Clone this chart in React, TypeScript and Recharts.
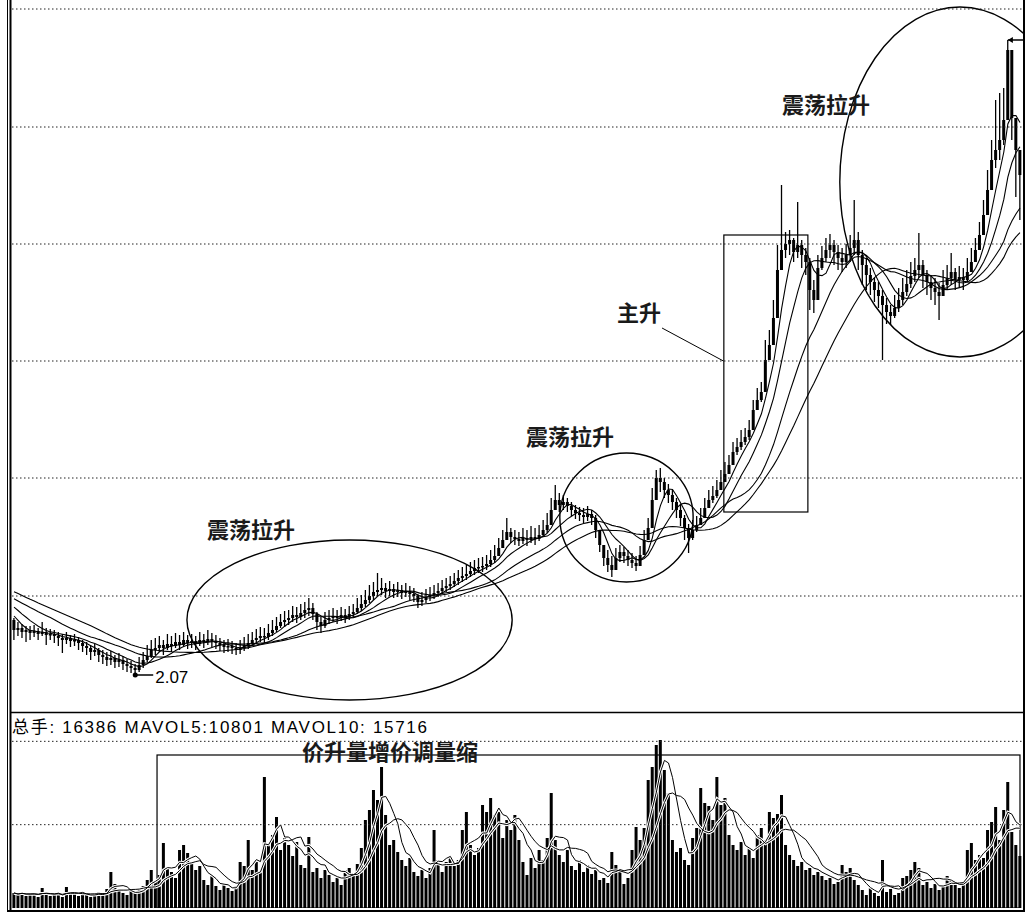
import React from 'react';
import { ComposedChart, Bar, Line, XAxis, YAxis, ReferenceLine, ReferenceArea, ReferenceDot } from 'recharts';

// Prices are in fen (1/100 yuan). One candle per trading day.
const priorCloseFen = [312, 310, 308, 309, 306, 304, 305, 302, 300, 301, 298, 297, 295, 296, 293, 291, 292, 289, 287, 286, 290, 288, 286, 284, 282, 279, 276, 272, 268, 262];

const closeFen = [
  252, 254, 250, 252, 249, 251, 248, 250, 247, 248,
  246, 244, 242, 244, 241, 242, 239, 236, 234, 230,
  232, 227, 225, 222, 224, 220, 222, 218, 216, 214,
  212, 217, 222, 226, 232, 234, 237, 234, 238, 236,
  240, 237, 242, 239, 241, 238, 242, 240, 243, 241,
  239, 237, 235, 236, 234, 232, 234, 237, 239, 242,
  244, 246, 245, 249, 252, 256, 260, 262, 264, 267,
  265, 269, 272, 274, 268, 260, 256, 262, 264, 266,
  264, 267, 265, 268, 270, 274, 278, 282, 286, 290,
  292, 294, 291, 293, 290, 292, 289, 291, 288, 286,
  280, 282, 285, 287, 289, 291, 294, 296, 298, 301,
  304, 306, 308, 311, 314, 315, 316, 318, 322, 326,
  334, 342, 350, 345, 343, 341, 344, 342, 345, 343,
  347, 352, 357, 372, 382, 377, 380, 376, 372, 369,
  367, 365, 368, 364, 352, 337, 324, 317, 312, 324,
  330, 326, 322, 319, 316, 327, 342, 354, 382, 404,
  400, 392, 387, 380, 372, 364, 354, 344, 352, 357,
  364, 374, 382, 386, 392, 400, 408, 417, 430, 435,
  440, 445, 452, 472, 482, 490, 522, 537, 564, 612,
  632, 638, 642, 630, 637, 627, 620, 592, 582, 614,
  624, 632, 637, 630, 624, 620, 627, 634, 642, 627,
  617, 607, 600, 592, 586, 577, 570, 566, 574, 582,
  590, 598, 606, 612, 617, 607, 600, 594, 590, 586,
  597, 604, 610, 602, 605, 602, 610, 620, 632, 647,
  667, 692, 722, 732, 742, 762, 832, 764, 732, 707,
];

const highFen = [
  264, 260, 258, 256, 256, 257, 254, 260, 254, 253,
  252, 250, 248, 250, 247, 248, 245, 242, 240, 237,
  238, 234, 232, 230, 231, 227, 229, 226, 223, 221,
  218, 225, 230, 237, 242, 244, 246, 242, 248, 246,
  249, 247, 250, 247, 248, 246, 250, 248, 252, 249,
  247, 244, 242, 243, 241, 239, 242, 245, 248, 250,
  253, 255, 254, 258, 262, 265, 268, 271, 272, 276,
  275, 278, 280, 284, 279, 270, 265, 270, 272, 274,
  272, 275, 273, 276, 278, 284, 287, 292, 297, 300,
  309, 304, 299, 301, 298, 300, 297, 299, 296, 294,
  288, 290, 293, 295, 297, 299, 302, 304, 306, 309,
  312, 315, 317, 320, 322, 324, 325, 327, 332, 337,
  344, 352, 364, 354, 352, 350, 354, 352, 356, 354,
  357, 362, 369, 384, 397, 389, 387, 384, 380, 377,
  375, 374, 376, 372, 367, 352, 337, 332, 326, 334,
  337, 335, 332, 329, 326, 336, 352, 364, 394, 412,
  414, 404, 398, 392, 384, 377, 367, 358, 362, 366,
  374, 384, 392, 396, 402, 412, 420, 427, 440, 444,
  452, 454, 462, 482, 494, 500, 542, 552, 582, 637,
  697, 650, 652, 644, 680, 642, 634, 624, 602, 627,
  636, 644, 648, 642, 637, 634, 638, 647, 682, 650,
  632, 624, 614, 604, 600, 592, 584, 577, 587, 594,
  604, 612, 620, 624, 649, 622, 612, 607, 604, 599,
  612, 617, 629, 614, 616, 614, 624, 634, 644, 660,
  682, 712, 742, 782, 789, 794, 842, 777, 752, 729,
];

const lowFen = [
  242, 246, 244, 240, 242, 245, 242, 246, 237, 242,
  239, 236, 229, 238, 235, 236, 232, 230, 227, 222,
  226, 220, 218, 216, 217, 214, 215, 212, 210, 209,
  207, 210, 214, 220, 224, 227, 230, 227, 232, 230,
  234, 232, 235, 233, 234, 232, 236, 234, 237, 235,
  233, 231, 229, 230, 228, 227, 228, 231, 233, 236,
  238, 240, 239, 242, 246, 250, 254, 255, 257, 260,
  259, 262, 264, 266, 262, 252, 249, 254, 258, 260,
  258, 261, 259, 262, 264, 268, 271, 275, 279, 282,
  286, 287, 284, 286, 284, 285, 283, 285, 282, 280,
  274, 276, 279, 281, 283, 285, 288, 290, 292, 295,
  297, 300, 302, 305, 307, 309, 310, 312, 315, 319,
  326, 334, 342, 339, 337, 336, 338, 336, 339, 337,
  341, 345, 349, 362, 374, 370, 372, 370, 366, 363,
  361, 359, 361, 357, 344, 330, 316, 310, 305, 316,
  320, 319, 316, 314, 311, 319, 334, 344, 362, 387,
  390, 384, 379, 372, 364, 356, 342, 329, 342, 350,
  357, 367, 374, 379, 384, 392, 400, 409, 420, 427,
  432, 437, 442, 462, 474, 480, 507, 522, 547, 582,
  617, 624, 627, 620, 624, 614, 607, 572, 569, 587,
  612, 620, 624, 617, 612, 610, 614, 620, 627, 612,
  597, 592, 587, 580, 574, 522, 558, 557, 564, 570,
  577, 586, 594, 600, 604, 594, 587, 582, 577, 562,
  587, 592, 597, 592, 594, 592, 600, 610, 620, 634,
  652, 672, 707, 714, 722, 737, 765, 742, 685, 662,
];

// Volume in 手 (lots)
const volumeLots = [
  4500, 3900, 4800, 3600, 4200, 4500, 3300, 6000, 4200, 3600,
  3900, 4500, 3300, 6300, 4800, 4200, 3600, 4500, 3900, 3300,
  4200, 4800, 3900, 5700, 10800, 7200, 5400, 4500, 3900, 5100,
  4500, 5700, 6600, 8400, 11400, 7800, 9900, 19500, 12000, 10800,
  9000, 17400, 18900, 16500, 13800, 11400, 12600, 8400, 6900, 9600,
  6600, 5400, 7200, 6000, 5100, 6600, 13800, 12600, 20400, 11400,
  14400, 10800, 39300, 18900, 21900, 27300, 17400, 21000, 18900, 15600,
  19800, 12900, 12000, 21300, 10800, 12000, 9000, 11400, 9900, 7800,
  9000, 6900, 11400, 12000, 10500, 13200, 18000, 26400, 29400, 35400,
  32400, 42300, 27900, 18900, 20400, 16800, 14400, 12600, 15000, 10800,
  9600, 11400, 9000, 12000, 23400, 14400, 10800, 13800, 15000, 12600,
  14400, 23400, 28800, 18900, 15900, 18000, 30900, 28800, 33000, 27900,
  29400, 21000, 26400, 23400, 27900, 20400, 13800, 9900, 15000, 12000,
  17400, 14400, 21000, 34500, 20400, 15900, 13800, 17400, 12600, 11400,
  14400, 10800, 12900, 10200, 11400, 8400, 9000, 7500, 16800, 12900,
  11400, 7200, 9000, 17400, 24300, 20400, 24000, 38400, 42300, 48900,
  50400, 41400, 34500, 20400, 16800, 18000, 14400, 12900, 21000, 24000,
  36000, 31500, 30600, 26400, 39300, 30900, 33000, 21900, 18900, 17400,
  19800, 15900, 18000, 15000, 21900, 24000, 20400, 28800, 27000, 28200,
  33900, 18900, 15900, 14400, 12600, 13800, 11400, 12000, 9900, 10800,
  9600, 8400, 9000, 7200, 7800, 12900, 10800, 12000, 8400, 6900,
  5400, 3900, 6000, 4500, 3600, 14400, 4800, 5700, 3900, 4500,
  9000, 9600, 11400, 13800, 12000, 6900, 7800, 6000, 7200, 5400,
  6600, 9600, 8400, 6900, 6000, 7200, 17400, 19500, 14400, 15900,
  15000, 23400, 25800, 30300, 20400, 29400, 37800, 22800, 18900, 15600,
];

const priceGridFen = [286, 404, 521, 638, 755, 873];
const volumeGridLots = [25000, 50000];
const maPeriods = [5, 10, 20, 30];
const volMaPeriods = [5, 10];

// annotations, in data units (candle index, fen / lots)
const annotationEllipses = [
  { x1: 42.8, x2: 123.3, y1: 182, y2: 342, clip: false },
  { x1: 135.1, x2: 168.1, y1: 300, y2: 429, clip: false },
  { x1: 204.4, x2: 263.9, y1: 525, y2: 875, clip: true },
];
const mainRiseBox = { x1: 175.7, x2: 196.5, y1: 370, y2: 647 };
const mainRiseLeader = [{ x: 160.4, y: 554 }, { x: 175.6, y: 521 }];
const volumeBox = { x1: 35.4, x2: 249.0, y1: 0, y2: 45900 };
const lowPoint = { i: 30, fen: 207, label: '2.07' };
const highPoint = { i: 246, fen: 842 };

const N = closeFen.length;
const allCloses = [...priorCloseFen, ...closeFen];
const P = priorCloseFen.length;

function avg(arr: number[], end: number, k: number) {
  let s = 0;
  let n = 0;
  for (let j = Math.max(0, end - k + 1); j <= end; j++) {
    s += arr[j];
    n++;
  }
  return s / n;
}

const priceRows = closeFen.map((c, i) => {
  const o = i === 0 ? priorCloseFen[P - 1] : closeFen[i - 1];
  const hi = Math.max(highFen[i], o, c);
  const lo = Math.min(lowFen[i], o, c);
  const row: any = { i, o, c, hi, lo, range: [lo, hi] };
  maPeriods.forEach((k) => {
    row['ma' + k] = avg(allCloses, P + i, k);
  });
  return row;
});

const volRows = volumeLots.map((v, i) => {
  const row: any = { i, v };
  volMaPeriods.forEach((k) => {
    row['mv' + k] = avg(volumeLots, i, k);
  });
  return row;
});

const W = 1030;
const MAIN_H = 712;
const VOL_TOP = 713;
const VOL_H = 195;
const MARGIN = { top: 0, right: 8, bottom: 0, left: 12 };
const X_DOMAIN: [number, number] = [-0.5, N - 0.5];

const Candle = (props: any) => {
  const { x, y, width, height, payload } = props;
  if (!payload || x == null) return null;
  const top = Math.min(y, y + height);
  const h = Math.abs(height);
  const span = payload.hi - payload.lo;
  const k = span > 0 ? h / span : 0;
  const cx = x + width / 2;
  const bTop = top + (payload.hi - Math.max(payload.o, payload.c)) * k;
  const bBot = top + (payload.hi - Math.min(payload.o, payload.c)) * k;
  return (
    <g>
      <line x1={cx} x2={cx} y1={top} y2={top + h} stroke="#000" strokeWidth={1.3} />
      <rect x={cx - 1.5} y={bTop} width={3} height={Math.max(1.5, bBot - bTop)} fill="#000" />
    </g>
  );
};

const VolBar = (props: any) => {
  const { x, y, width, height } = props;
  if (x == null) return null;
  const top = Math.min(y, y + height);
  return <rect x={x + width / 2 - 1.5} y={top} width={3} height={Math.abs(height)} fill="#000" />;
};

const EllipseShape = (p: any) => (
  <ellipse
    cx={p.x + p.width / 2}
    cy={p.y + p.height / 2}
    rx={Math.abs(p.width) / 2}
    ry={Math.abs(p.height) / 2}
    fill="none"
    stroke="#000"
    strokeWidth={1.4}
  />
);

const BoxShape = (p: any) => (
  <rect x={p.x} y={p.y} width={p.width} height={p.height} fill="none" stroke="#000" strokeWidth={1.2} />
);

const LowMarker = (p: any) => (
  <g>
    <circle cx={p.cx} cy={p.cy} r={2.5} fill="#000" />
    <line x1={p.cx} x2={p.cx + 18} y1={p.cy} y2={p.cy} stroke="#000" strokeWidth={1.5} />
    <text x={p.cx + 20} y={p.cy + 8} fontSize={17} fontFamily="Liberation Sans, Arial, sans-serif" fill="#000">
      {lowPoint.label}
    </text>
  </g>
);

const HighMarker = (p: any) => (
  <g>
    <line x1={p.cx} x2={p.cx + 16} y1={p.cy} y2={p.cy} stroke="#000" strokeWidth={1.5} />
    <polygon points={`${p.cx},${p.cy} ${p.cx + 5},${p.cy - 3} ${p.cx + 5},${p.cy + 3}`} fill="#000" />
  </g>
);

const cjkBold = '"Noto Sans CJK SC", "Noto Sans CJK TC", sans-serif';

export default function App() {
  return (
    <div style={{ position: 'absolute', left: 0, top: 0, width: W, height: 916, background: '#fff', overflow: 'hidden' }}>
      <div style={{ position: 'absolute', left: 0, top: 0 }}>
        <ComposedChart width={W} height={MAIN_H} data={priceRows} margin={MARGIN}>
          <XAxis dataKey="i" type="number" domain={X_DOMAIN} hide height={0} allowDataOverflow />
          <YAxis type="number" domain={[170, 882]} hide width={0} allowDataOverflow />
          {priceGridFen.map((g) => (
            <ReferenceLine key={'g' + g} y={g} stroke="#222" strokeWidth={1} strokeDasharray="1.5 2.5" />
          ))}
          {annotationEllipses.map((e, k) => (
            <ReferenceArea
              key={'e' + k}
              x1={e.x1}
              x2={e.x2}
              y1={e.y1}
              y2={e.y2}
              ifOverflow={e.clip ? 'hidden' : 'visible'}
              shape={EllipseShape}
            />
          ))}
          <ReferenceArea
            x1={mainRiseBox.x1}
            x2={mainRiseBox.x2}
            y1={mainRiseBox.y1}
            y2={mainRiseBox.y2}
            ifOverflow="visible"
            shape={BoxShape}
          />
          <ReferenceLine segment={mainRiseLeader} stroke="#000" strokeWidth={1} ifOverflow="visible" />
          <Bar dataKey="range" shape={Candle} isAnimationActive={false} />
          {maPeriods.map((k) => (
            <Line
              key={'ma' + k}
              dataKey={'ma' + k}
              type="linear"
              stroke="#000"
              strokeWidth={1.1}
              dot={false}
              activeDot={false}
              isAnimationActive={false}
            />
          ))}
          <ReferenceDot x={lowPoint.i} y={lowPoint.fen} r={3} shape={LowMarker} ifOverflow="visible" />
          <ReferenceDot x={highPoint.i} y={highPoint.fen} r={3} shape={HighMarker} ifOverflow="visible" />
        </ComposedChart>
      </div>
      <div style={{ position: 'absolute', left: 0, top: VOL_TOP }}>
        <ComposedChart width={W} height={VOL_H} data={volRows} margin={MARGIN}>
          <XAxis dataKey="i" type="number" domain={X_DOMAIN} hide height={0} allowDataOverflow />
          <YAxis type="number" domain={[0, 58500]} hide width={0} allowDataOverflow />
          {volumeGridLots.map((g) => (
            <ReferenceLine key={'vg' + g} y={g} stroke="#222" strokeWidth={1} strokeDasharray="1.5 2.5" />
          ))}
          <Bar dataKey="v" shape={VolBar} isAnimationActive={false} />
          {volMaPeriods.map((k) => (
            <Line
              key={'mvw' + k}
              dataKey={'mv' + k}
              type="linear"
              stroke="#fff"
              strokeWidth={3}
              dot={false}
              activeDot={false}
              isAnimationActive={false}
            />
          ))}
          {volMaPeriods.map((k) => (
            <Line
              key={'mv' + k}
              dataKey={'mv' + k}
              type="linear"
              stroke="#000"
              strokeWidth={1}
              dot={false}
              activeDot={false}
              isAnimationActive={false}
            />
          ))}
          <ReferenceArea
            x1={volumeBox.x1}
            x2={volumeBox.x2}
            y1={volumeBox.y1}
            y2={volumeBox.y2}
            ifOverflow="visible"
            shape={BoxShape}
          />
        </ComposedChart>
      </div>
      <svg width={W} height={916} style={{ position: 'absolute', left: 0, top: 0, pointerEvents: 'none' }}>
        <rect x={1025} y={0} width={5} height={916} fill="#fff" />
        <rect x={0} y={912} width={1030} height={4} fill="#fff" />
        <line x1={7.5} x2={7.5} y1={0} y2={912} stroke="#000" strokeWidth={1} />
        <line x1={10.5} x2={10.5} y1={0} y2={912} stroke="#000" strokeWidth={2} />
        <line x1={1024} x2={1024} y1={0} y2={912} stroke="#000" strokeWidth={2} />
        <line x1={10} x2={1025} y1={712.5} y2={712.5} stroke="#000" strokeWidth={1.5} />
        <line x1={7} x2={1025} y1={911} y2={911} stroke="#000" strokeWidth={2} />
        <g fontFamily={cjkBold} fontWeight={700} fill="#1a1a1a" fontSize={22} textAnchor="middle">
          <text x={251} y={538}>震荡拉升</text>
          <text x={570} y={445}>震荡拉升</text>
          <text x={826} y={113}>震荡拉升</text>
          <text x={639} y={321}>主升</text>
          <text x={390} y={760}>价升量增价调量缩</text>
        </g>
        <text
          x={12}
          y={733}
          fontSize={17}
          fontFamily='"Liberation Sans", Arial, "Noto Sans CJK SC", sans-serif'
          fill="#000"
          textLength={415}
          lengthAdjust="spacing"
        >
          总手: 16386 MAVOL5:10801 MAVOL10: 15716
        </text>
      </svg>
    </div>
  );
}
